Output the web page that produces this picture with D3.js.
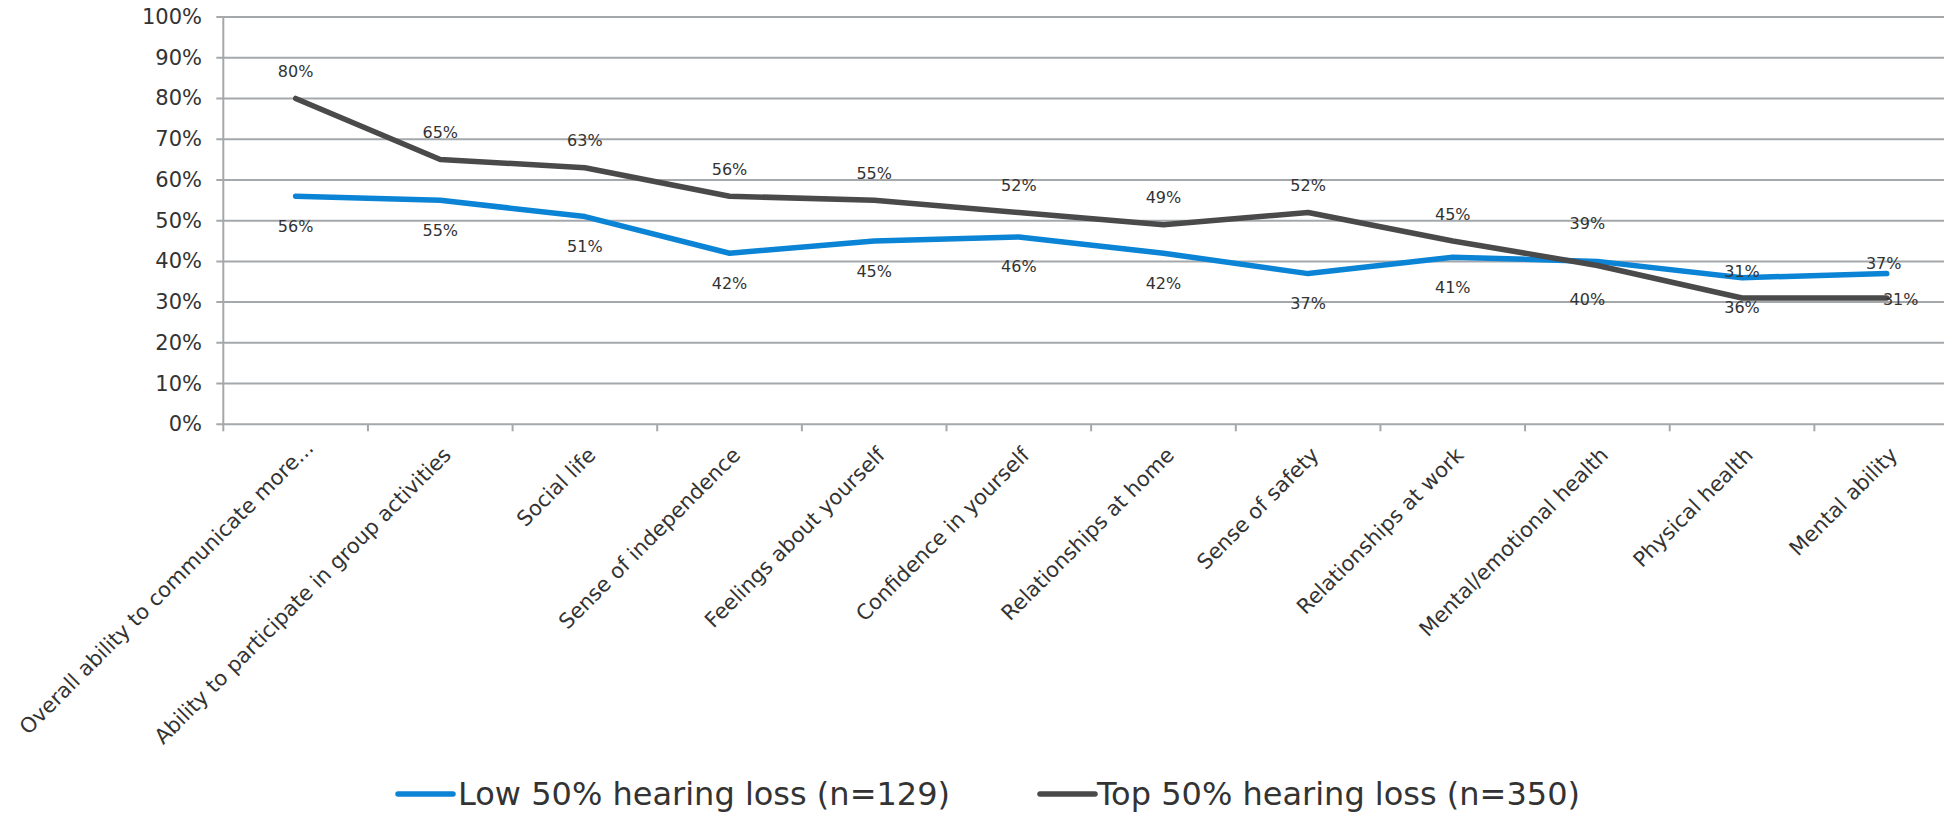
<!DOCTYPE html>
<html>
<head>
<meta charset="utf-8">
<script src="https://cdn.jsdelivr.net/npm/d3@7/dist/d3.min.js"></script>
<style>
  html, body { margin: 0; padding: 0; background: #ffffff; }
  svg { display: block; }
  text { font-family: "DejaVu Sans", Verdana, sans-serif; fill: #333333; }
</style>
</head>
<body>
<svg id="chart" width="1944" height="813"></svg>
<script>
// Areas of life improved, by degree of hearing loss
const categories = [
  "Overall ability to communicate more...",
  "Ability to participate in group activities",
  "Social life",
  "Sense of independence",
  "Feelings about yourself",
  "Confidence in yourself",
  "Relationships at home",
  "Sense of safety",
  "Relationships at work",
  "Mental/emotional health",
  "Physical health",
  "Mental ability"
];
const lowLoss = [56, 55, 51, 42, 45, 46, 42, 37, 41, 40, 36, 37];
const topLoss = [80, 65, 63, 56, 55, 52, 49, 52, 45, 39, 31, 31];
const seriesNames = ["Low 50% hearing loss (n=129)", "Top 50% hearing loss (n=350)"];
const yTicks = [0, 10, 20, 30, 40, 50, 60, 70, 80, 90, 100];

const colors = ["#0b84d5", "#4a4a4a"];
const gridColor = "#a5a8ab";

const svg = d3.select("#chart");

const plot = { left: 223.3, right: 1959, top: 17, bottom: 424.3 };

const x = d3.scaleBand().domain(categories).range([plot.left, plot.right]).padding(0);
const y = d3.scaleLinear().domain([0, 100]).range([plot.bottom, plot.top]);
const cx = c => x(c) + x.bandwidth() / 2;

// horizontal gridlines with small outside ticks
svg.append("g").selectAll("line").data(yTicks).join("line")
  .attr("x1", plot.left - 7).attr("x2", plot.right)
  .attr("y1", d => y(d)).attr("y2", d => y(d))
  .attr("stroke", gridColor).attr("stroke-width", 2);

// vertical axis line
svg.append("line")
  .attr("x1", plot.left).attr("x2", plot.left)
  .attr("y1", plot.top).attr("y2", plot.bottom)
  .attr("stroke", gridColor).attr("stroke-width", 2);

// value axis labels
const fmtPct = d => d + "%";
svg.append("g").selectAll("text").data(yTicks).join("text")
  .attr("x", 202).attr("y", d => y(d))
  .attr("text-anchor", "end").attr("dominant-baseline", "central")
  .style("font-size", "21px")
  .text(fmtPct);

// category tick marks at band boundaries
const boundaries = categories.map(c => x(c)).concat([plot.right]);
svg.append("g").selectAll("line").data(boundaries).join("line")
  .attr("x1", d => d).attr("x2", d => d)
  .attr("y1", plot.bottom).attr("y2", plot.bottom + 7)
  .attr("stroke", gridColor).attr("stroke-width", 2);

// rotated category labels
svg.append("g").selectAll("text").data(categories).join("text")
  .attr("text-anchor", "end")
  .attr("transform", (c, i) => i === 0
    ? `translate(${cx(c) + 19},${plot.bottom + 25}) rotate(-45)`
    : `translate(${cx(c) + 12},${plot.bottom + 32}) rotate(-45)`)
  .style("font-size", "21px")
  .text(c => c);

// series lines
const series = [lowLoss, topLoss];
const line = d3.line().x((d, i) => cx(categories[i])).y(d => y(d));
series.forEach((vals, s) => {
  svg.append("path")
    .attr("d", line(vals))
    .attr("fill", "none")
    .attr("stroke", colors[s])
    .attr("stroke-width", 5.5)
    .attr("stroke-linejoin", "round")
    .attr("stroke-linecap", "round");
});

// data labels: top series above its points, low series below
function labelOffset(s, i) {
  const cat = categories[i];
  if (cat === "Mental/emotional health") return s === 1 ? [-10, -42] : [-10, 38];
  if (cat === "Mental ability") return s === 1 ? [14, 1] : [-3, -10];
  return s === 1 ? [0, -27] : [0, 30];
}
series.forEach((vals, s) => {
  svg.append("g").selectAll("text").data(vals).join("text")
    .attr("x", (d, i) => cx(categories[i]) + labelOffset(s, i)[0])
    .attr("y", (d, i) => y(d) + labelOffset(s, i)[1])
    .attr("text-anchor", "middle").attr("dominant-baseline", "central")
    .style("font-size", "16px")
    .text(fmtPct);
});

// legend
const legendItems = [
  { x1: 398, x2: 453, tx: 458 },
  { x1: 1040, x2: 1095, tx: 1097 }
];
const legend = svg.append("g");
seriesNames.forEach((name, s) => {
  const it = legendItems[s];
  legend.append("line")
    .attr("x1", it.x1).attr("x2", it.x2)
    .attr("y1", 794).attr("y2", 794)
    .attr("stroke", colors[s]).attr("stroke-width", 5.5)
    .attr("stroke-linecap", "round");
  legend.append("text")
    .attr("x", it.tx).attr("y", 805)
    .style("font-size", "32px")
    .text(name);
});
</script>
</body>
</html>
